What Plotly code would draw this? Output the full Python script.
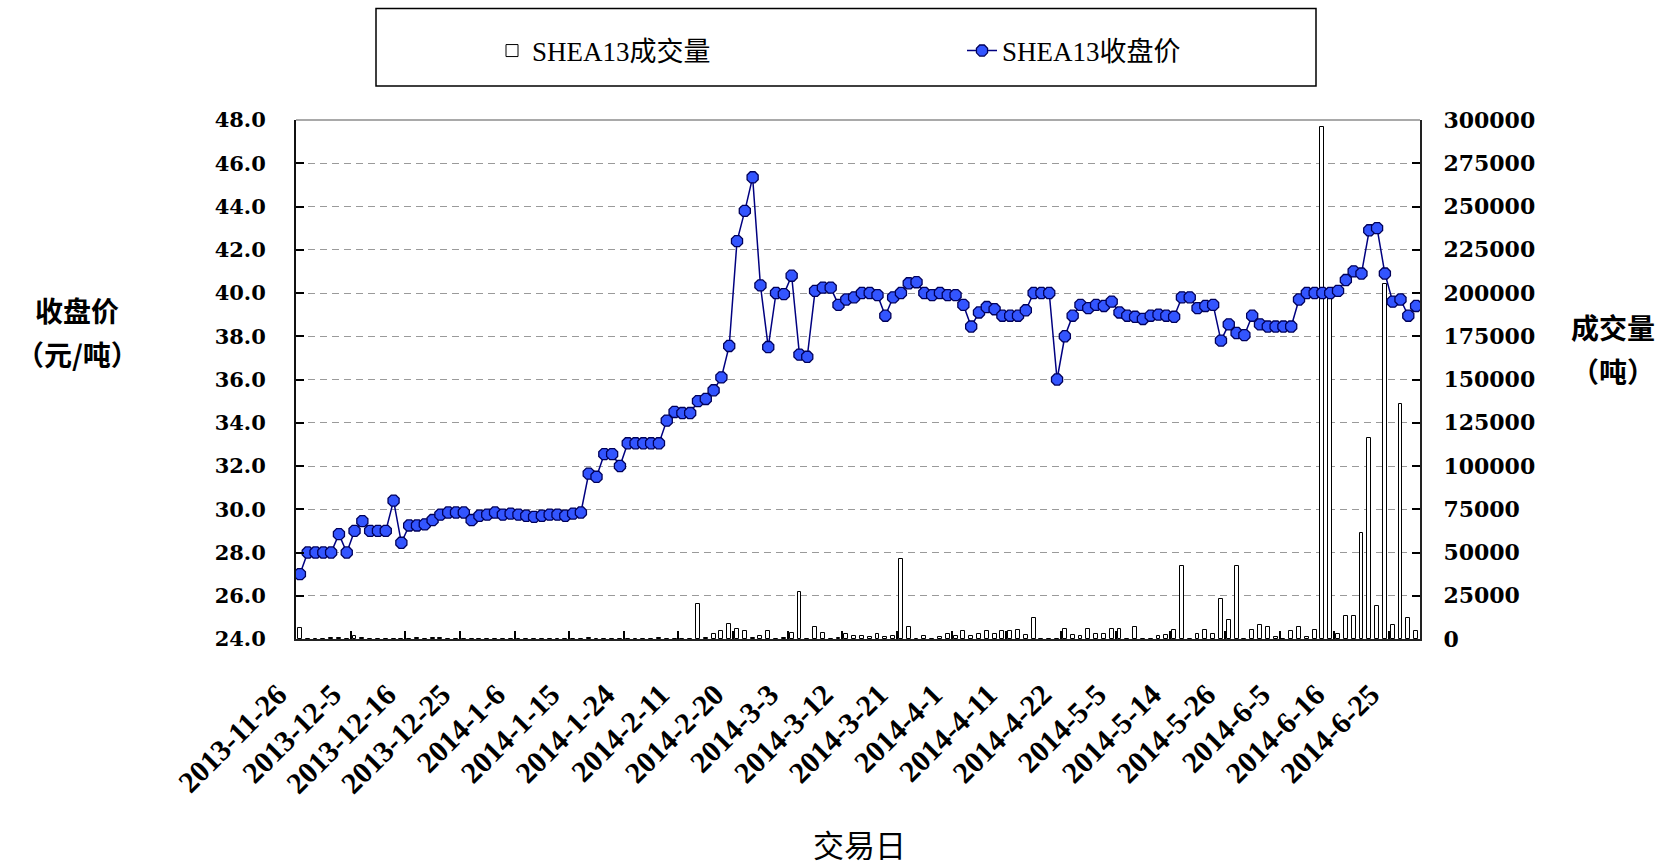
import plotly.graph_objects as go

# ---------------- data ----------------
tick_labels = ["2013-11-26", "2013-12-5", "2013-12-16", "2013-12-25", "2014-1-6",
               "2014-1-15", "2014-1-24", "2014-2-11", "2014-2-20", "2014-3-3",
               "2014-3-12", "2014-3-21", "2014-4-1", "2014-4-11", "2014-4-22",
               "2014-5-5", "2014-5-14", "2014-5-26", "2014-6-5", "2014-6-16",
               "2014-6-25"]
label_step = 7  # one label every 7 trading days

close_price = [
    27.0, 28.0, 28.0, 28.0, 28.0, 28.85, 28.0, 29.0, 29.45, 29.0,
    29.0, 29.0, 30.4, 28.45, 29.25, 29.25, 29.3, 29.5, 29.75, 29.85,
    29.85, 29.85, 29.5, 29.7, 29.75, 29.85, 29.75, 29.8, 29.75, 29.7,
    29.65, 29.7, 29.75, 29.75, 29.7, 29.8, 29.85, 31.65, 31.5, 32.55,
    32.55, 32.0, 33.05, 33.05, 33.05, 33.05, 33.05, 34.1, 34.5, 34.45,
    34.45, 35.0, 35.1, 35.5, 36.1, 37.55, 42.4, 43.8, 45.35, 40.35,
    37.5, 40.0, 39.95, 40.8, 37.15, 37.05, 40.1, 40.25, 40.25, 39.45,
    39.7, 39.8, 40.0, 40.0, 39.9, 38.95, 39.8, 40.0, 40.45, 40.5,
    40.0, 39.9, 40.0, 39.9, 39.9, 39.45, 38.45, 39.1, 39.35, 39.25,
    38.95, 38.95, 38.95, 39.2, 40.0, 40.0, 40.0, 36.0, 38.0, 38.95,
    39.45, 39.3, 39.45, 39.4, 39.6, 39.1, 38.95, 38.9, 38.8, 38.95,
    39.0, 38.95, 38.9, 39.8, 39.8, 39.3, 39.4, 39.45, 37.8, 38.55,
    38.15, 38.05, 38.95, 38.55, 38.45, 38.45, 38.45, 38.45, 39.7, 40.0,
    40.0, 40.0, 40.0, 40.1, 40.6, 41.0, 40.9, 42.9, 43.0, 40.9,
    39.6, 39.7, 38.95, 39.4,
]

volume = [
    6300, 0, 0, 0, 800, 800, 0, 1500, 800, 0,
    0, 0, 0, 0, 0, 800, 0, 800, 800, 0,
    0, 0, 0, 0, 0, 0, 0, 0, 0, 0,
    0, 0, 0, 0, 0, 0, 0, 800, 0, 0,
    0, 0, 0, 0, 0, 0, 800, 0, 0, 0,
    0, 20200, 800, 2700, 4700, 8900, 5800, 4700, 800, 2000,
    4700, 0, 800, 3500, 27000, 0, 6800, 3700, 0, 800,
    2700, 2000, 2000, 1000, 2700, 1000, 2000, 46000, 7200, 0,
    2000, 0, 1000, 3100, 2000, 4700, 2000, 3100, 4400, 3100,
    4400, 4400, 5000, 2100, 12100, 0, 0, 0, 6000, 2100,
    1900, 6000, 3100, 3100, 6000, 6000, 0, 6900, 0, 0,
    1900, 2100, 5000, 42300, 0, 3100, 5000, 3100, 23300, 11200,
    42300, 0, 5000, 8300, 6900, 1000, 0, 4400, 6900, 1000,
    5000, 296000, 200000, 3100, 13100, 13100, 61000, 116000, 19300, 205000,
    8300, 136000, 12100, 4400,
]

day_index = list(range(len(close_price)))
tick_positions = [i * label_step for i in range(len(tick_labels))]
boundary_ticks = [p + label_step - 0.5 for p in tick_positions]

# ---------------- geometry helpers ----------------
FIG_W, FIG_H = 1673, 865
ML, MR, MT, MB = 296, 253, 120, 226
PW = FIG_W - ML - MR
PH = FIG_H - MT - MB


def px(x):
    return (x - ML) / PW


def py(y):
    return (FIG_H - MB - y) / PH


tick_font_left = dict(family="DejaVu Serif", size=21, color="black", weight="bold")
tick_font_right = dict(family="DejaVu Serif", size=22, color="black", weight="bold")
tick_font_x = dict(family="Liberation Serif", size=30, color="black", weight="bold")
title_font = dict(family="Noto Sans CJK SC", size=28, color="black", weight="bold")
legend_font = dict(family="Liberation Serif, Noto Sans CJK SC", size=27, color="black")

fig = go.Figure()

fig.add_trace(go.Bar(
    x=day_index, y=volume, name="SHEA13成交量",
    width=0.5,
    marker=dict(color="white", line=dict(color="black", width=1)),
    yaxis="y", legend="legend",
))

fig.add_trace(go.Scatter(
    x=day_index, y=close_price, name="SHEA13收盘价",
    mode="lines+markers",
    line=dict(color="#000080", width=1.5),
    marker=dict(symbol="octagon", size=12, color="#3355ff",
                line=dict(color="#00005a", width=1.3)),
    yaxis="y2", legend="legend2",
))

fig.update_layout(
    width=FIG_W, height=FIG_H,
    margin=dict(l=ML, r=MR, t=MT, b=MB, pad=0),
    paper_bgcolor="white", plot_bgcolor="white",
    showlegend=True,
    bargap=0,
    xaxis=dict(
        range=[-0.5, len(close_price) - 0.5],
        tickmode="array", tickvals=tick_positions, ticktext=tick_labels,
        tickangle=-45, ticks="",
        tickfont=tick_font_x,
        ticklabelstandoff=24, ticklabelshift=-22,
        showline=True, linecolor="#222222", linewidth=2,
        showgrid=False, zeroline=False,
        minor=dict(tickmode="array", tickvals=boundary_ticks, ticks="inside",
                   ticklen=8, tickcolor="black", tickwidth=1.5, showgrid=False),
    ),
    yaxis=dict(
        side="right", range=[0, 300000], tickmode="linear", tick0=0, dtick=25000,
        tickformat="d",
        ticks="inside", ticklen=8, tickcolor="black", tickwidth=1.5,
        tickfont=tick_font_right, ticklabelstandoff=17,
        showline=True, linecolor="#222222", linewidth=2,
        showgrid=True, gridcolor="#9a9a9a", gridwidth=1, griddash="7px,5px",
        zeroline=False,
    ),
    yaxis2=dict(
        overlaying="y", side="left", range=[24, 48], tickmode="linear",
        tick0=24, dtick=2, tickformat=".1f",
        ticks="inside", ticklen=8, tickcolor="black", tickwidth=1.5,
        tickfont=tick_font_left, ticklabelstandoff=24,
        showline=True, linecolor="#111111", linewidth=2,
        showgrid=False, zeroline=False,
    ),
    legend=dict(
        orientation="h", x=px(492), y=py(51), xanchor="left", yanchor="middle",
        font=legend_font, bgcolor="rgba(0,0,0,0)", borderwidth=0,
    ),
    legend2=dict(
        orientation="h", x=px(962), y=py(51), xanchor="left", yanchor="middle",
        font=legend_font, bgcolor="rgba(0,0,0,0)", borderwidth=0,
    ),
    shapes=[
        dict(type="line", xref="paper", yref="paper", x0=0, x1=1, y0=1, y1=1,
             line=dict(color="#8c8c8c", width=1.5)),
        dict(type="rect", xref="paper", yref="paper",
             x0=px(376), x1=px(1316), y0=py(86), y1=py(8.5),
             line=dict(color="black", width=1.5), fillcolor="rgba(0,0,0,0)"),
    ],
    annotations=[
        dict(text="收盘价", x=px(77), y=py(310), xref="paper", yref="paper",
             showarrow=False, xanchor="center", yanchor="middle", font=title_font),
        dict(text="（元/吨）", x=px(77), y=py(354), xref="paper", yref="paper",
             showarrow=False, xanchor="center", yanchor="middle", font=title_font),
        dict(text="成交量", x=px(1613), y=py(327), xref="paper", yref="paper",
             showarrow=False, xanchor="center", yanchor="middle", font=title_font),
        dict(text="（吨）", x=px(1613), y=py(371), xref="paper", yref="paper",
             showarrow=False, xanchor="center", yanchor="middle", font=title_font),
        dict(text="交易日", x=px(859), y=py(843), xref="paper", yref="paper",
             showarrow=False, xanchor="center", yanchor="middle",
             font=dict(family="Noto Sans CJK SC", size=31, color="black")),
    ],
)

fig.write_html("out.html", config={"displayModeBar": False},
               post_script="document.body.style.margin='0';")
